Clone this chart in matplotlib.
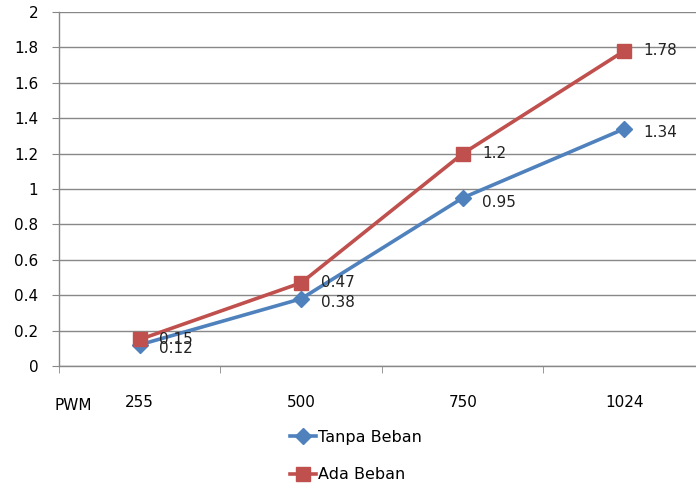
import matplotlib.pyplot as plt
from matplotlib.ticker import MultipleLocator, FuncFormatter

pwm = ["255", "500", "750", "1024"]
tanpa_beban = [0.12, 0.38, 0.95, 1.34]
ada_beban = [0.15, 0.47, 1.2, 1.78]

blue = "#4F81BD"
red = "#C0504D"
grid_col = "#888888"

plt.rcParams["font.family"] = ["DejaVu Sans"]

fig = plt.figure(figsize=(6.96, 4.86), dpi=100)
ax = fig.add_axes([59 / 696, 120 / 486, 646 / 696, 354 / 486])

x = list(range(len(pwm)))
ax.plot(x, tanpa_beban, color=blue, lw=2.6, marker="D", markersize=8.5,
        label="Tanpa Beban", zorder=3)
ax.plot(x, ada_beban, color=red, lw=2.6, marker="s", markersize=10,
        label="Ada Beban", zorder=4)

# value labels to the right of each point
for xi, v in zip(x, tanpa_beban):
    ax.annotate(f"{v:g}", (xi, v), xytext=(14, -3), textcoords="offset points",
                va="center", ha="left", fontsize=11, color="#222222", zorder=5)
for xi, v in zip(x, ada_beban):
    ax.annotate(f"{v:g}", (xi, v), xytext=(14, 0), textcoords="offset points",
                va="center", ha="left", fontsize=11, color="#222222", zorder=5)

ax.set_xlim(-0.5, 3.5)
ax.set_ylim(0, 2)
ax.yaxis.set_major_locator(MultipleLocator(0.2))
ax.yaxis.set_major_formatter(FuncFormatter(lambda v, p: f"{round(v, 1):g}"))
ax.grid(axis="y", color=grid_col, lw=1)
ax.set_axisbelow(True)

ax.set_xticks(x)
ax.set_xticklabels(pwm)
ax.set_xticks([-0.5, 0.5, 1.5, 2.5, 3.5], minor=True)
ax.tick_params(axis="x", which="major", length=0, pad=21, labelsize=11)
ax.tick_params(axis="x", which="minor", length=5, color=grid_col, direction="out")
ax.tick_params(axis="y", length=5, color=grid_col, pad=10, labelsize=11)

for s in ["top", "right"]:
    ax.spines[s].set_visible(False)
for s in ["left", "bottom"]:
    ax.spines[s].set_color(grid_col)
    ax.spines[s].set_linewidth(1)

fig.text(73 / 696, 1 - 405 / 486, "PWM", fontsize=11, ha="center", va="center")

fig.legend(loc="center left", bbox_to_anchor=(276 / 696, 1 - 456 / 486), frameon=False,
           fontsize=11.5, labelspacing=1.4, handlelength=1.6, handletextpad=0.1)

fig.savefig("out.png", dpi=100)
